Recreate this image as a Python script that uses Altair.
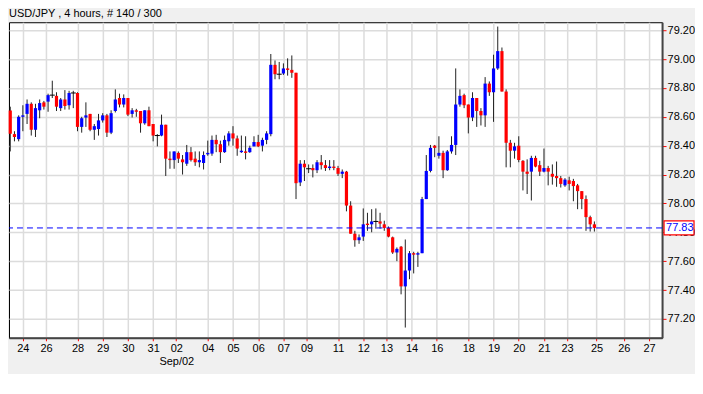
import altair as alt
import pandas as pd

# ---- data ----
opens = [78.644, 78.48, 78.445, 78.60, 78.62, 78.69, 78.51, 78.645, 78.70, 78.705,
         78.75, 78.745, 78.66, 78.72, 78.68, 78.765, 78.765, 78.53, 78.595, 78.62,
         78.51, 78.515, 78.575, 78.61, 78.49, 78.64, 78.73, 78.685, 78.73, 78.62,
         78.645, 78.64, 78.555, 78.645, 78.55, 78.47, 78.47, 78.545, 78.31, 78.30,
         78.35, 78.305, 78.275, 78.355, 78.31, 78.285, 78.28, 78.34, 78.345, 78.44,
         78.41, 78.355, 78.43, 78.485, 78.45, 78.355, 78.36, 78.355, 78.395, 78.425,
         78.40, 78.44, 78.48, 78.96, 78.895, 78.90, 78.935, 78.925, 78.905, 78.145,
         78.275, 78.24, 78.245, 78.23, 78.285, 78.265, 78.245, 78.255, 78.245, 78.205,
         78.22, 77.985, 77.79, 77.745, 77.77, 77.86, 77.855, 77.875, 77.875, 77.855,
         77.83, 77.765, 77.66, 77.70, 77.425, 77.535, 77.655, 77.645, 77.655, 78.03,
         78.225, 78.40, 78.33, 78.35, 78.23, 78.36, 78.405, 78.685, 78.75, 78.685,
         78.595, 78.73, 78.64, 78.61, 78.83, 78.77, 78.935, 79.055, 78.775, 78.42,
         78.365, 78.40, 78.295, 78.22, 78.22, 78.315, 78.265, 78.22, 78.245, 78.205,
         78.19, 78.175, 78.125, 78.16, 78.155, 78.125, 78.085, 78.03, 77.905, 77.855]
highs = [78.67, 78.50, 78.61, 78.68, 78.72, 78.70, 78.69, 78.72, 78.71, 78.76,
         78.85, 78.77, 78.73, 78.785, 78.78, 78.78, 78.77, 78.60, 78.70, 78.62,
         78.55, 78.62, 78.625, 78.62, 78.645, 78.79, 78.76, 78.755, 78.73, 78.66,
         78.655, 78.64, 78.645, 78.67, 78.55, 78.48, 78.615, 78.545, 78.36, 78.36,
         78.36, 78.335, 78.405, 78.39, 78.36, 78.36, 78.36, 78.435, 78.47, 78.475,
         78.435, 78.47, 78.50, 78.535, 78.47, 78.47, 78.465, 78.40, 78.465, 78.475,
         78.455, 78.50, 79.035, 78.99, 78.98, 78.97, 79.005, 79.025, 78.905, 78.30,
         78.30, 78.27, 78.27, 78.30, 78.335, 78.30, 78.30, 78.30, 78.26, 78.235,
         78.225, 78.015, 77.81, 77.785, 77.965, 77.935, 77.96, 77.965, 77.935, 77.88,
         77.84, 77.77, 77.695, 77.705, 77.75, 77.67, 77.665, 77.665, 78.045, 78.335,
         78.405, 78.405, 78.465, 78.365, 78.37, 78.465, 78.935, 78.79, 78.76, 78.685,
         78.77, 78.73, 78.66, 78.875, 78.845, 79.03, 79.225, 79.08, 78.79, 78.44,
         78.42, 78.465, 78.30, 78.305, 78.33, 78.33, 78.295, 78.38, 78.26, 78.27,
         78.29, 78.19, 78.175, 78.185, 78.17, 78.135, 78.085, 78.055, 77.915, 77.875]
lows = [78.36, 78.43, 78.43, 78.50, 78.55, 78.47, 78.46, 78.59, 78.65, 78.635,
        78.73, 78.64, 78.64, 78.65, 78.65, 78.66, 78.50, 78.49, 78.53, 78.50,
        78.44, 78.47, 78.56, 78.46, 78.48, 78.63, 78.665, 78.665, 78.605, 78.595,
        78.60, 78.49, 78.545, 78.535, 78.43, 78.395, 78.465, 78.19, 78.24, 78.24,
        78.28, 78.20, 78.26, 78.29, 78.26, 78.25, 78.235, 78.33, 78.33, 78.355,
        78.28, 78.35, 78.40, 78.40, 78.33, 78.35, 78.305, 78.35, 78.395, 78.39,
        78.36, 78.41, 78.465, 78.86, 78.86, 78.89, 78.885, 78.87, 78.03, 78.12,
        78.155, 78.21, 78.18, 78.21, 78.235, 78.225, 78.23, 78.23, 78.19, 78.175,
        77.945, 77.79, 77.70, 77.72, 77.74, 77.81, 77.80, 77.825, 77.825, 77.81,
        77.765, 77.65, 77.60, 77.37, 77.14, 77.475, 77.515, 77.56, 77.655, 78.03,
        78.215, 78.32, 78.31, 78.175, 78.225, 78.345, 78.335, 78.67, 78.66, 78.485,
        78.57, 78.53, 78.54, 78.53, 78.745, 78.565, 78.925, 78.775, 78.25, 78.25,
        78.31, 78.285, 78.09, 78.065, 78.02, 78.25, 78.19, 78.215, 78.125, 78.13,
        78.115, 78.11, 78.115, 78.09, 78.015, 77.96, 77.96, 77.81, 77.805, 77.805]
closes = [78.482, 78.46, 78.60, 78.61, 78.69, 78.51, 78.66, 78.695, 78.67, 78.75,
          78.75, 78.67, 78.72, 78.675, 78.765, 78.765, 78.53, 78.59, 78.61, 78.51,
          78.535, 78.575, 78.61, 78.49, 78.625, 78.72, 78.685, 78.73, 78.615, 78.645,
          78.635, 78.555, 78.645, 78.535, 78.47, 78.47, 78.545, 78.31, 78.30, 78.36,
          78.31, 78.285, 78.355, 78.30, 78.285, 78.30, 78.335, 78.35, 78.44, 78.41,
          78.355, 78.44, 78.485, 78.45, 78.38, 78.365, 78.35, 78.385, 78.425, 78.395,
          78.44, 78.485, 78.96, 78.895, 78.895, 78.935, 78.925, 78.905, 78.14, 78.275,
          78.25, 78.24, 78.23, 78.285, 78.265, 78.245, 78.255, 78.245, 78.205, 78.22,
          77.985, 77.79, 77.745, 77.765, 77.855, 77.85, 77.875, 77.875, 77.86, 77.83,
          77.77, 77.66, 77.685, 77.425, 77.535, 77.655, 77.645, 77.655, 78.03, 78.225,
          78.385, 78.385, 78.35, 78.23, 78.36, 78.405, 78.685, 78.745, 78.68, 78.595,
          78.73, 78.64, 78.61, 78.83, 78.77, 78.935, 79.055, 78.775, 78.42, 78.365,
          78.395, 78.30, 78.22, 78.205, 78.315, 78.255, 78.22, 78.245, 78.22, 78.185,
          78.175, 78.135, 78.165, 78.135, 78.12, 78.085, 78.03, 77.905, 77.855, 77.83]

last_price = 77.83
price_ticks = [77.20, 77.40, 77.60, 77.80, 78.00, 78.20, 78.40, 78.60, 78.80, 79.00, 79.20]
date_tick_pos = [3, 8.5, 16, 22, 28, 34, 39.5, 47, 53, 59, 65, 70.5, 78, 84, 89.5,
                 95.5, 101.5, 109, 115, 121, 127, 132.5, 139.5, 146, 152]
date_tick_labels = ["24", "26", "28", "29", "30", "31", "02", "04", "05", "06", "07", "09",
                    "11", "12", "13", "14", "16", "18", "19", "20", "21", "23", "25", "26", "27"]
date_sub_labels = ["" for _ in date_tick_labels]
date_sub_labels[6] = "Sep/02"
title_text = "USD/JPY , 4 hours, # 140 / 300"

df = pd.DataFrame({"i": list(range(len(opens))), "open": opens, "high": highs,
                   "low": lows, "close": closes})
df["dir"] = ["up" if c > o else ("down" if c < o else "flat") for o, c in zip(opens, closes)]

FONT = "Liberation Sans"
pos_js = "[" + ",".join(repr(float(v)) for v in date_tick_pos) + "]"
lab_js = "[" + ",".join("'" + s + "'" for s in date_tick_labels) + "]"
sub_js = "[" + ",".join("'" + s + "'" for s in date_sub_labels) + "]"
label_expr = f"[{lab_js}[indexof({pos_js}, datum.value)], {sub_js}[indexof({pos_js}, datum.value)]]"

x_scale = alt.Scale(domain=[-0.3, 155.1], nice=False, zero=False, padding=0)
y_scale = alt.Scale(domain=[77.069, 79.255], nice=False, zero=False)

x_axis = alt.Axis(values=date_tick_pos, labelExpr=label_expr, title=None, grid=True,
                  gridColor="#dcdcdc", gridWidth=1.5, tickColor="red", tickSize=3,
                  labelFont=FONT, labelFontSize=11, labelColor="black", labelPadding=2,
                  labelLineHeight=13, labelFlush=False, labelOverlap=False,
                  domainColor="#444444", domainWidth=2)
y_axis = alt.Axis(values=price_ticks, format=".2f", orient="right", title=None, grid=True,
                  gridColor="#dcdcdc", gridWidth=1.5, tickColor="red", tickSize=4,
                  labelFont=FONT, labelFontSize=11, labelColor="black", labelPadding=1,
                  domainColor="#444444", domainWidth=2)

base = alt.Chart(df)

wicks = base.mark_rule(color="#222222", strokeWidth=1).encode(
    x=alt.X("i:Q", scale=x_scale, axis=x_axis),
    y=alt.Y("low:Q", scale=y_scale, axis=y_axis),
    y2="high:Q",
)

bodies = base.transform_filter(alt.datum.dir != "flat").mark_bar(width=3.2).encode(
    x=alt.X("i:Q", scale=x_scale, axis=x_axis),
    y=alt.Y("open:Q", scale=y_scale, axis=y_axis),
    y2="close:Q",
    color=alt.Color("dir:N", scale=alt.Scale(domain=["up", "down"], range=["#0000ff", "#ff0000"]),
                    legend=None),
)

dojis = base.transform_filter(alt.datum.dir == "flat").mark_rule(
    color="black", strokeWidth=1, xOffset=-2.5, x2Offset=2.5).encode(
    x=alt.X("i:Q", scale=x_scale, axis=x_axis),
    x2="i:Q",
    y=alt.Y("close:Q", scale=y_scale, axis=y_axis),
)

last_df = pd.DataFrame({"price": [last_price], "label": [f"{last_price:.2f}"]})
last_base = alt.Chart(last_df)

dash = last_base.mark_rule(stroke="#0000ff", color="#0000ff", strokeDash=[6, 4],
                           strokeWidth=1).encode(
    y=alt.Y("price:Q", scale=y_scale, axis=y_axis),
)

box = last_base.mark_rect(fill="white", stroke="red", strokeWidth=1.2,
                          yOffset=-7, y2Offset=7, clip=False).encode(
    x=alt.value(656), x2=alt.value(686),
    y=alt.Y("price:Q", scale=y_scale, axis=y_axis),
    y2="price:Q",
)

box_text = last_base.mark_text(color="#0000ff", font=FONT, fontSize=11, align="left",
                               baseline="middle").encode(
    x=alt.value(658),
    y=alt.Y("price:Q", scale=y_scale, axis=y_axis),
    text="label:N",
)

chart = alt.layer(wicks, bodies, dojis, dash, box, box_text).properties(
    width=654, height=316,
    padding={"left": 0, "top": 0, "right": 0, "bottom": 7},
    title=alt.TitleParams(title_text, anchor="start", font=FONT, fontSize=11,
                          fontWeight="normal", color="black", offset=3, frame="group"),
).configure(background="#f0f0f0", font=FONT).configure_view(
    fill="white", stroke="black", strokeWidth=1
)

chart.save("out.html", embed_options={"renderer": "svg", "actions": False})
